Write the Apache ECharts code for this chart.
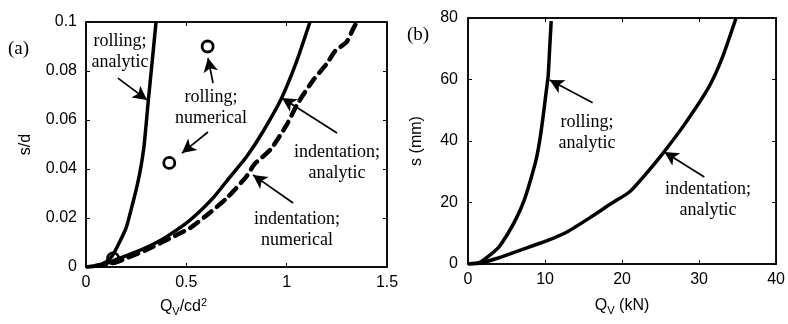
<!DOCTYPE html>
<html>
<head>
<meta charset="utf-8">
<script src="https://cdn.jsdelivr.net/npm/echarts@6/dist/echarts.min.js"></script>
<style>
  html, body { margin: 0; padding: 0; background: #fff; }
  #chart { width: 788px; height: 324px; }
</style>
</head>
<body>
<div id="chart"></div>
<script>
// (a) normalised load vs normalised sinkage
var rollingAnalyticA = [[0,0],[0.05,0.0004],[0.1,0.002],[0.13,0.0045],[0.16,0.009],[0.2,0.016],[0.233,0.026],[0.257,0.034],[0.274,0.041],[0.29,0.05],[0.31,0.0675],[0.33,0.084],[0.349,0.1]];
var indentAnalyticA = [[0,0],[0.08,0.0008],[0.166,0.0035],[0.25,0.0062],[0.332,0.0092],[0.40,0.0123],[0.498,0.0178],[0.577,0.0235],[0.639,0.0287],[0.72,0.037],[0.80,0.045],[0.88,0.055],[0.975,0.069],[1.05,0.084],[1.116,0.1]];
var indentNumericalA = [[0.05,0.0005],[0.15,0.002],[0.3,0.007],[0.45,0.013],[0.52,0.016],[0.60,0.021],[0.70,0.028],[0.80,0.037],[0.84,0.042],[0.92,0.048],[1.0,0.058],[1.05,0.066],[1.08,0.070],[1.13,0.076],[1.2,0.083],[1.24,0.088],[1.3,0.092],[1.33,0.097],[1.35,0.1]];
var rollingNumericalA = [[0.135,0.0035],[0.415,0.0425],[0.606,0.09]];

// (b) load in kN vs sinkage in mm
var rollingAnalyticB = [[0,0],[1.5,0.5],[2.6,2.4],[4,5.5],[5.2,10],[6.3,15],[7.3,20.8],[8.2,28],[8.85,34],[9.3,40],[9.7,47],[10.1,55],[10.4,61],[10.6,70],[10.8,79]];
var indentAnalyticB = [[0,0],[1.5,0.2],[3.7,1.8],[6,3.8],[8,5.6],[10.2,7.5],[12.9,10.5],[15.8,15],[18.5,19.5],[21,23.5],[23,29],[25.3,36],[28,45],[31.3,57.7],[33,67],[34.8,80]];

var xTicksA = [0, 0.5, 1, 1.5];
var yTicksA = [0, 0.02, 0.04, 0.06, 0.08, 0.1];
var xTicksB = [0, 10, 20, 30, 40];
var yTicksB = [0, 20, 40, 60, 80];

var sans = '"Liberation Sans", Arial, sans-serif';
var serif = '"Liberation Serif", "Times New Roman", serif';
var tickFont = { color: '#000', fontSize: 16, fontFamily: sans };

function mainAxis(pos, grid, ticks, extra) {
  var ax = {
    type: 'value', gridIndex: grid, position: pos,
    min: ticks[0], max: ticks[ticks.length - 1],
    interval: ticks[1] - ticks[0],
    splitLine: { show: false },
    axisLine: { show: true, onZero: false, lineStyle: { color: '#000', width: 1.5 } },
    axisTick: { show: true, inside: true, length: 4, lineStyle: { color: '#000' } },
    axisLabel: Object.assign({ margin: 8 }, tickFont)
  };
  return Object.assign(ax, extra || {});
}
function mirrorAxis(pos, grid, ticks) {
  return mainAxis(pos, grid, ticks, { axisLabel: { show: false } });
}

var richName = {
  b: { fontSize: 16, fontFamily: sans, color: '#000', lineHeight: 20, verticalAlign: 'middle' },
  s: { fontSize: 11, fontFamily: sans, color: '#000', lineHeight: 10, verticalAlign: 'bottom' },
  p: { fontSize: 11, fontFamily: sans, color: '#000', lineHeight: 10, verticalAlign: 'top' }
};

var arrowLine = { color: '#000', width: 1.7, type: 'solid' };
function arrows(list) {
  return {
    silent: true, symbol: ['none', 'arrow'], symbolSize: [11, 14],
    label: { show: false }, lineStyle: arrowLine, animation: false,
    data: list.map(function (a) { return [{ coord: a[0] }, { coord: a[1] }]; })
  };
}

var curve = { showSymbol: false, smooth: 0.2 };

var option = {
  animation: false,
  backgroundColor: '#fff',
  grid: [
    { left: 86, right: 401, top: 22, bottom: 57, show: true, borderColor: '#000', borderWidth: 1.5 },
    { left: 468, right: 11, top: 18, bottom: 60, show: true, borderColor: '#000', borderWidth: 1.5 }
  ],
  xAxis: [
    mainAxis('bottom', 0, xTicksA, {
      name: '{b|Q}{s|V}{b|/cd}{p|2}', nameLocation: 'middle', nameGap: 30,
      nameTextStyle: { padding: [0, 106, 0, 0], rich: richName },
      axisLabel: Object.assign({ margin: 8, formatter: function (v) { return String(v); } }, tickFont)
    }),
    mirrorAxis('top', 0, xTicksA),
    mainAxis('bottom', 1, xTicksB, {
      name: '{b|Q}{s|V}{b| (kN)}', nameLocation: 'middle', nameGap: 32,
      nameTextStyle: { rich: richName }
    }),
    mirrorAxis('top', 1, xTicksB)
  ],
  yAxis: [
    mainAxis('left', 0, yTicksA, {
      name: 's/d', nameLocation: 'middle', nameGap: 52,
      nameTextStyle: { color: '#000', fontSize: 16, fontFamily: sans },
      axisLabel: Object.assign({ margin: 9, formatter: function (v) { return String(v); } }, tickFont)
    }),
    mirrorAxis('right', 0, yTicksA),
    mainAxis('left', 1, yTicksB, {
      name: 's (mm)', nameLocation: 'middle', nameGap: 43,
      nameTextStyle: { color: '#000', fontSize: 16, fontFamily: sans },
      axisLabel: Object.assign({ margin: 10 }, tickFont)
    }),
    mirrorAxis('right', 1, yTicksB)
  ],
  series: [
    Object.assign({
      name: 'rolling; analytic (a)', type: 'line', xAxisIndex: 0, yAxisIndex: 0,
      data: rollingAnalyticA, lineStyle: { color: '#000', width: 3.5 }
    }, curve),
    Object.assign({
      name: 'indentation; analytic (a)', type: 'line', xAxisIndex: 0, yAxisIndex: 0,
      data: indentAnalyticA, lineStyle: { color: '#000', width: 3.5 }
    }, curve),
    Object.assign({
      name: 'indentation; numerical (a)', type: 'line', xAxisIndex: 0, yAxisIndex: 0,
      data: indentNumericalA,
      lineStyle: { color: '#000', width: 4.5, type: [10, 7], cap: 'round' }
    }, curve),
    {
      name: 'rolling; numerical (a)', type: 'scatter', xAxisIndex: 0, yAxisIndex: 0,
      data: rollingNumericalA, symbol: 'circle', symbolSize: 11,
      itemStyle: { color: '#fff', borderColor: '#000', borderWidth: 2.8, opacity: 1 },
      markLine: arrows([
        [[0.159, 0.0771], [0.304, 0.0682]],
        [[0.633, 0.0751], [0.608, 0.0853]],
        [[0.608, 0.0551], [0.478, 0.0465]],
        [[1.251, 0.0547], [0.977, 0.069]],
        [[1.032, 0.0261], [0.832, 0.0376]]
      ])
    },
    Object.assign({
      name: 'rolling; analytic (b)', type: 'line', xAxisIndex: 2, yAxisIndex: 2,
      data: rollingAnalyticB, lineStyle: { color: '#000', width: 3.5 },
      markLine: arrows([
        [[16.18, 52.4], [10.61, 59.8]],
        [[30.68, 28.3], [25.5, 36.4]]
      ])
    }, curve),
    Object.assign({
      name: 'indentation; analytic (b)', type: 'line', xAxisIndex: 2, yAxisIndex: 2,
      data: indentAnalyticB, lineStyle: { color: '#000', width: 3.5 }
    }, curve)
  ],
  graphic: [
    { type: 'text', left: 8, top: 40, style: { text: '(a)', font: '19px ' + serif, fill: '#000' } },
    { type: 'text', left: 407, top: 26, style: { text: '(b)', font: '19px ' + serif, fill: '#000' } }
  ]
};

function note(x, y, txt) {
  option.graphic.push({
    type: 'text', x: x, y: y,
    style: { text: txt, font: '18px ' + serif, fill: '#000', align: 'center', verticalAlign: 'middle', lineHeight: 21 }
  });
}
note(120, 52, 'rolling;\nanalytic');
note(211, 108, 'rolling;\nnumerical');
note(337, 163, 'indentation;\nanalytic');
note(297, 230, 'indentation;\nnumerical');
note(587, 133, 'rolling;\nanalytic');
note(708, 200, 'indentation;\nanalytic');

var chart = echarts.init(document.getElementById('chart'), null, { renderer: 'canvas' });
chart.setOption(option);
</script>
</body>
</html>
